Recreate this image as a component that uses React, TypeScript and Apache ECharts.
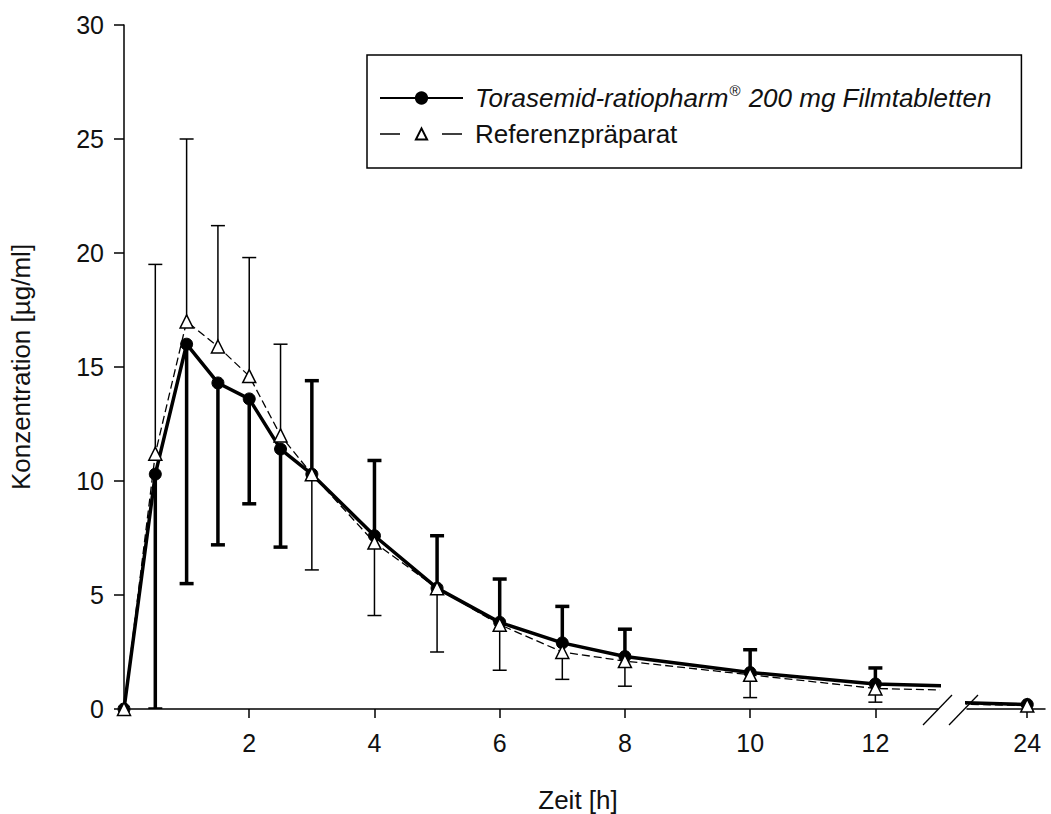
import React, { useEffect, useRef } from "react";
import * as echarts from "echarts";

// ---- data ----
const timesH = [0, 0.5, 1, 1.5, 2, 2.5, 3, 4, 5, 6, 7, 8, 10, 12, 24];
const testMean = [0, 10.3, 16.0, 14.3, 13.6, 11.4, 10.3, 7.6, 5.3, 3.8, 2.9, 2.3, 1.6, 1.1, 0.2];
const testBarEnd = [null, 0, 5.5, 7.2, 9.0, 7.1, 14.4, 10.9, 7.6, 5.7, 4.5, 3.5, 2.6, 1.8, null];
const refMean = [0, 11.2, 17.0, 15.9, 14.6, 12.0, 10.3, 7.3, 5.3, 3.7, 2.5, 2.1, 1.5, 0.9, 0.15];
const refBarEnd = [null, 19.5, 25.0, 21.2, 19.8, 16.0, 6.1, 4.1, 2.5, 1.7, 1.3, 1.0, 0.5, 0.3, null];

const leftTicks = [2, 4, 6, 8, 10, 12];
const rightTicks = [24];
const yTicks = { min: 0, max: 30, interval: 5 };

const NAME_TEST = "Torasemid-ratiopharm® 200 mg Filmtabletten";
const NAME_REF = "Referenzpräparat";
const X_NAME = "Zeit [h]";
const Y_NAME = "Konzentration [µg/ml]";

const FONT = "'Liberation Sans', Arial, Helvetica, sans-serif";
const INK = "#111";

export default function App() {
  const ref = useRef<HTMLDivElement>(null);
  useEffect(() => {
    if (!ref.current) return;
    const chart = echarts.init(ref.current, null, { renderer: "svg" });

    const testPts = timesH.map((t, i) => [t, testMean[i]]);
    const refPts = timesH.map((t, i) => [t, refMean[i]]);
    const testBars: number[][] = [];
    const refBars: number[][] = [];
    timesH.forEach((t, i) => {
      if (testBarEnd[i] != null) testBars.push([t, testMean[i], testBarEnd[i] as number]);
      if (refBarEnd[i] != null) refBars.push([t, refMean[i], refBarEnd[i] as number]);
    });

    const errRender = (lw: number) => (params: any, api: any) => {
      const x = api.value(0);
      const m = api.value(1);
      const e = api.value(2);
      const p0 = api.coord([x, m]);
      const p1 = api.coord([x, e]);
      const half = 7;
      return {
        type: "group",
        children: [
          {
            type: "line",
            shape: { x1: p0[0], y1: p0[1], x2: p1[0], y2: p1[1] },
            style: { stroke: "#000", lineWidth: lw },
          },
          {
            type: "line",
            shape: { x1: p1[0] - half, y1: p1[1], x2: p1[0] + half, y2: p1[1] },
            style: { stroke: "#000", lineWidth: lw },
          },
        ],
      };
    };

    const gridTop = 25;
    const gridBottom = 814 - 709;

    const axisLineStyle = { color: "#000", width: 1.5 };
    const labelStyle = { color: INK, fontSize: 25, fontFamily: FONT };

    const testLine = (xi: number) => ({
      type: "line",
      name: NAME_TEST,
      xAxisIndex: xi,
      yAxisIndex: xi,
      data: testPts,
      clip: true,
      z: 3,
      symbol: "circle",
      symbolSize: 12,
      showAllSymbol: true,
      itemStyle: { color: "#000", borderColor: "#000", borderWidth: 1 },
      lineStyle: { color: "#000", width: 3.5 },
    });
    const refLine = (xi: number) => ({
      type: "line",
      name: NAME_REF,
      xAxisIndex: xi,
      yAxisIndex: xi,
      data: refPts,
      clip: true,
      z: 4,
      symbol: "triangle",
      symbolSize: 13,
      showAllSymbol: true,
      itemStyle: { color: "#fff", borderColor: "#000", borderWidth: 1.5 },
      lineStyle: { color: "#000", width: 1.3, type: [8, 4] },
    });

    const option: any = {
      animation: false,
      backgroundColor: "#fff",
      textStyle: { fontFamily: FONT },
      grid: [
        { left: 112, top: gridTop, width: 938 - 112, bottom: gridBottom },
        { left: 967, top: gridTop, width: 1045 - 967, bottom: gridBottom },
      ],
      xAxis: [
        {
          type: "value",
          gridIndex: 0,
          min: 0,
          max: 13,
          interval: 2,
          axisLine: { show: true, onZero: false, lineStyle: axisLineStyle },
          axisTick: { show: true, customValues: leftTicks, length: 9, lineStyle: axisLineStyle },
          axisLabel: { customValues: leftTicks, margin: 21, ...labelStyle },
          splitLine: { show: false },
        },
        {
          type: "value",
          gridIndex: 1,
          min: 23.05,
          max: 24.28,
          axisLine: { show: true, onZero: false, lineStyle: axisLineStyle },
          axisTick: { show: true, customValues: rightTicks, length: 9, lineStyle: axisLineStyle },
          axisLabel: { customValues: rightTicks, margin: 21, ...labelStyle },
          splitLine: { show: false },
        },
      ],
      yAxis: [
        {
          type: "value",
          gridIndex: 0,
          min: yTicks.min,
          max: yTicks.max,
          interval: yTicks.interval,
          name: Y_NAME,
          nameLocation: "middle",
          nameGap: 90,
          nameTextStyle: { color: INK, fontSize: 26, fontFamily: FONT },
          axisLine: { show: true, lineStyle: axisLineStyle },
          axisTick: { show: true, length: 10, lineStyle: axisLineStyle },
          axisLabel: { margin: 20, ...labelStyle },
          splitLine: { show: false },
        },
        {
          type: "value",
          gridIndex: 1,
          min: yTicks.min,
          max: yTicks.max,
          show: false,
        },
      ],
      legend: {
        data: [
          { name: NAME_TEST },
          { name: NAME_REF, lineStyle: { type: [20, 42], width: 1.5 } },
        ],
        orient: "vertical",
        left: 367,
        top: 55,
        itemWidth: 83,
        itemHeight: 14,
        itemGap: 10,
        padding: [28, 30, 21, 12],
        borderColor: "#000",
        borderWidth: 1.5,
        selectedMode: false,
        formatter: (name: string) =>
          name === NAME_TEST
            ? "{it|Torasemid-ratiopharm}{sup|®}{it| 200 mg Filmtabletten}"
            : "{n|" + name + "}",
        textStyle: {
          color: INK,
          fontSize: 26,
          fontFamily: FONT,
          padding: [0, 0, 0, 7],
          rich: {
            it: { fontStyle: "italic", fontSize: 26, fontFamily: FONT, color: INK, lineHeight: 30 },
            n: { fontSize: 26, fontFamily: FONT, color: INK, lineHeight: 30 },
            sup: {
              fontStyle: "italic",
              fontSize: 15,
              fontFamily: FONT,
              color: INK,
              verticalAlign: "top",
              lineHeight: 30,
              padding: [0, 1, 10, 1],
            },
          },
        },
      },
      graphic: [
        {
          type: "text",
          x: 578,
          y: 800,
          style: {
            text: X_NAME,
            fill: INK,
            fontSize: 26,
            fontFamily: FONT,
            align: "center",
            verticalAlign: "middle",
            textAlign: "center",
            textVerticalAlign: "middle",
          },
        },
        {
          type: "line",
          shape: { x1: 923, y1: 725, x2: 952, y2: 695 },
          style: { stroke: "#000", lineWidth: 1.3 },
        },
        {
          type: "line",
          shape: { x1: 949, y1: 725, x2: 978, y2: 695 },
          style: { stroke: "#000", lineWidth: 1.3 },
        },
      ],
      series: [
        {
          type: "custom",
          name: "testSD",
          xAxisIndex: 0,
          yAxisIndex: 0,
          data: testBars,
          renderItem: errRender(3.5),
          clip: true,
          z: 2,
          silent: true,
        },
        {
          type: "custom",
          name: "refSD",
          xAxisIndex: 0,
          yAxisIndex: 0,
          data: refBars,
          renderItem: errRender(1.5),
          clip: true,
          z: 2,
          silent: true,
        },
        testLine(0),
        refLine(0),
        testLine(1),
        refLine(1),
      ],
    };

    chart.setOption(option);
    return () => chart.dispose();
  }, []);

  return (
    <div
      ref={ref}
      style={{ position: "fixed", left: 0, top: 0, width: 1051, height: 814, background: "#fff" }}
    />
  );
}
